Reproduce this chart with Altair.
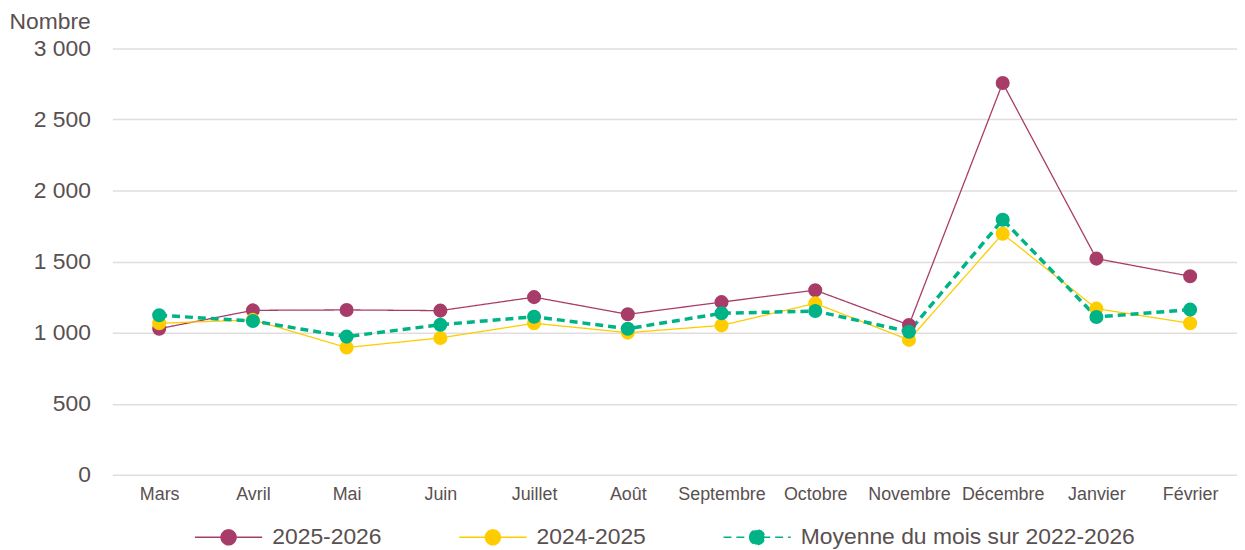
import altair as alt
import pandas as pd

mois = ["Mars", "Avril", "Mai", "Juin", "Juillet", "Août", "Septembre",
        "Octobre", "Novembre", "Décembre", "Janvier", "Février"]
s_2025_2026 = [1028, 1157, 1160, 1155, 1250, 1129, 1215, 1299, 1054, 2757, 1521, 1397]
s_2024_2025 = [1066, 1090, 895, 963, 1066, 1000, 1051, 1206, 949, 1696, 1169, 1066]
s_moyenne = [1122, 1082, 972, 1056, 1112, 1028, 1136, 1152, 1007, 1795, 1110, 1162]

series = ["2025-2026", "2024-2025", "Moyenne du mois sur 2022-2026"]
colors = ["#A83C69", "#FFCC00", "#00B386"]
dashes = [[1, 0], [1, 0], [8, 5]]
widths = [1.3, 1.3, 3.5]

rows = []
for name, vals in zip(series, [s_2025_2026, s_2024_2025, s_moyenne]):
    for m, v in zip(mois, vals):
        rows.append({"mois": m, "valeur": v, "serie": name})
df = pd.DataFrame(rows)

txt = "#595050"
font = "Liberation Sans"

sym = "M-1,0H1M-0.22,0A0.22,0.22,0,1,1,0.22,0A0.22,0.22,0,1,1,-0.22,0Z"

leg = alt.Legend(
    title=None, orient="none", legendX=82, legendY=457, direction="horizontal",
    symbolType=sym, symbolSize=4583, labelFontSize=23, labelColor=txt,
    labelFont=font, columnPadding=74, labelOffset=9, symbolStrokeWidth=1.6,
    symbolOpacity=1, labelLimit=0,
)

x = alt.X("mois:N", sort=mois, title=None,
          axis=alt.Axis(labelAngle=0, labelFontSize=18, labelColor=txt, labelFont=font,
                        domain=False, ticks=False, labelPadding=11))
y = alt.Y("valeur:Q", scale=alt.Scale(domain=[0, 3000], nice=False),
          axis=alt.Axis(values=[0, 500, 1000, 1500, 2000, 2500, 3000],
                        labelExpr="replace(format(datum.value, ',d'), ',', '\u00a0')",
                        labelFontSize=23, labelColor=txt, labelFont=font,
                        domain=False, ticks=False, labelPadding=22,
                        gridColor="#E2DDDD", gridWidth=1.5,
                        title="Nombre", titleAngle=0, titleFontSize=23,
                        titleFontWeight="normal", titleColor=txt, titleFont=font,
                        titleAlign="left", titleBaseline="middle",
                        titleX=-104, titleY=-27))

color = alt.Color("serie:N", scale=alt.Scale(domain=series, range=colors), legend=leg)
dash = alt.StrokeDash("serie:N", scale=alt.Scale(domain=series, range=dashes), legend=leg)

line_layers = []
for name, w in zip(series, widths):
    line_layers.append(
        alt.Chart(df).transform_filter(alt.datum.serie == name)
        .mark_line(strokeWidth=w)
        .encode(x=x, y=y, color=color, strokeDash=dash)
    )

points = alt.Chart(df).mark_circle(size=200, opacity=1).encode(
    x=x, y=y, color=color,
)

chart = alt.layer(*line_layers, points).properties(
    width=1132, height=429,
    padding={"left": 105, "top": 39, "right": 0, "bottom": 74},
    autosize=alt.AutoSizeParams(type="none"),
).configure_view(stroke=None)

chart.save("out.html", embed_options={"renderer": "svg", "actions": False})
